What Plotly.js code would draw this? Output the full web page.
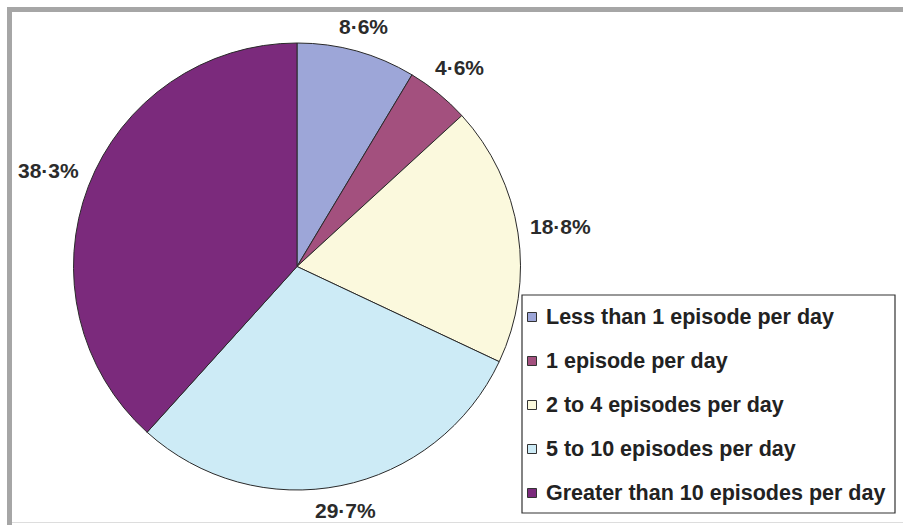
<!DOCTYPE html>
<html>
<head>
<meta charset="utf-8">
<script src="https://cdn.plot.ly/plotly-3.0.1.min.js"></script>
<style>html,body{margin:0;padding:0;background:#fff;}#chart{width:903px;height:525px;}</style>
</head>
<body>
<div id="chart"></div>
<script>
const categories = [
  "Less than 1 episode per day",
  "1 episode per day",
  "2 to 4 episodes per day",
  "5 to 10 episodes per day",
  "Greater than 10 episodes per day"
];
const values = [8.6, 4.6, 18.8, 29.7, 38.3];
const colors = ["#9da6d8", "#a3507e", "#fbf9dd", "#cdebf6", "#7b2a7c"];

const W = 903, H = 525;
const px = x => x / W;
const py = y => 1 - y / H;

const labels = values.map(v => v.toFixed(1).replace('.', '\u00b7') + '%');
const FONT = 'Liberation Sans, Arial, sans-serif';

// pie geometry (pixels)
const CX = 297, CY = 266.5, R = 223.5;

const trace = {
  type: 'pie',
  labels: categories,
  values: values,
  textinfo: 'none',
  sort: false,
  direction: 'clockwise',
  rotation: 0,
  marker: {colors: colors, line: {color: '#2a2a2a', width: 1}},
  domain: {x: [px(CX - R), px(CX + R)], y: [py(CY + R), py(CY - R)]},
  showlegend: false,
  hoverinfo: 'label+percent'
};

const shapes = [
  {type: 'line', xref: 'paper', yref: 'paper', x0: px(7), x1: px(903), y0: py(9.5), y1: py(9.5), line: {color: '#a6a6a6', width: 5}},
  {type: 'line', xref: 'paper', yref: 'paper', x0: px(9.5), x1: px(9.5), y0: py(7), y1: py(525), line: {color: '#a6a6a6', width: 5}},
  {type: 'line', xref: 'paper', yref: 'paper', x0: px(12), x1: px(903), y0: py(522.5), y1: py(522.5), line: {color: '#dddddd', width: 1}},
  {type: 'rect', xref: 'paper', yref: 'paper', x0: px(522), x1: px(895), y0: py(295), y1: py(513), line: {color: '#333333', width: 1.2}, fillcolor: 'rgba(255,255,255,0)'}
];
const annotations = [];

// percentage labels outside the slices, at each slice's mid angle
const total = values.reduce((a, b) => a + b, 0);
let cum = 0;
values.forEach((v, i) => {
  const mid = (cum + v / 2) / total * 2 * Math.PI;
  cum += v;
  const ux = Math.sin(mid), uy = -Math.cos(mid);
  const w = 11 * labels[i].length + 5, h = 15;
  const ext = Math.abs(ux) * w / 2 + Math.abs(uy) * h / 2;
  const D = R + 12 + ext;
  const x = CX + D * ux;
  const y = CY + D * uy;
  annotations.push({xref: 'paper', yref: 'paper', x: px(x), y: py(y), xanchor: 'center', yanchor: 'middle',
    text: '<b>' + labels[i] + '</b>', showarrow: false, font: {family: FONT, size: 21, color: '#2b2b2b'}});
});

// legend
const rowY0 = 317, rowStep = 44;
categories.forEach((c, i) => {
  const yc = rowY0 + i * rowStep;
  shapes.push({type: 'rect', xref: 'paper', yref: 'paper', x0: px(527.5), x1: px(536.5), y0: py(yc - 4.5), y1: py(yc + 4.5),
    line: {color: '#333333', width: 1}, fillcolor: colors[i]});
  annotations.push({xref: 'paper', yref: 'paper', x: px(544), y: py(yc), xanchor: 'left', yanchor: 'middle',
    text: '<b>' + c + '</b>', showarrow: false, font: {family: FONT, size: 21.5, color: '#222222'}});
});

const layout = {
  width: W, height: H,
  margin: {l: 0, r: 0, t: 0, b: 0},
  paper_bgcolor: '#ffffff',
  showlegend: false,
  shapes: shapes,
  annotations: annotations,
  font: {family: FONT}
};

Plotly.newPlot('chart', [trace], layout, {displayModeBar: false, staticPlot: true});
</script>
</body>
</html>
